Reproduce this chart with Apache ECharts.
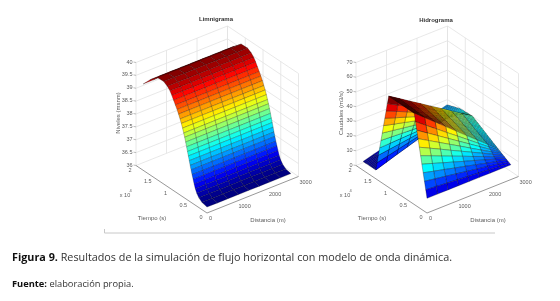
<!DOCTYPE html>
<html><head><meta charset="utf-8">
<style>html,body{margin:0;padding:0;background:#fff}#c{width:560px;height:301px;filter:blur(0.45px)}</style>
<script src="https://cdn.jsdelivr.net/npm/echarts@6/dist/echarts.min.js"></script>
</head><body><div id="c"></div>
<script>
// ---- data ----
const distancias = [0,344,688,1031,1375,1719,2062,2406,2750];
const tiemposNivel = [0,1440,2300,2880,3300,3630,3920,4220,4500,4750,5000,5250,5500,5750,6020,6300,6570,6890,7230,7600,8010,8440,8910,9410,9900,10440,11180,12200,14000,16000,18000];
const niveles = [36.23,36.28,36.38,36.50,36.64,36.79,36.95,37.10,37.26,37.41,37.57,37.73,37.88,38.04,38.20,38.36,38.50,38.66,38.81,38.95,39.10,39.24,39.37,39.51,39.65,39.78,39.89,39.98,39.97,39.70,39.35];
const tiemposCaudal = [0,360,720,1080,1440,1800,2160,2520,2880,3240,3600,3960,4320,4680,5040,5400,5760,6120,6480,6840,7200,7560,7920,8280,8640,9000,9360,9720,10080,10440,10800,11160,11520,11880,12240,12600,12960,13320,13680,14040,14400,14760,15120,15480,15840,16200,16560,16920,17280,17640,18000];
const caudales = [
[10,10,10,10,10,10,10,10,10],
[15.2,14.6,14.0,13.4,12.9,12.3,11.7,11.1,10.5],
[20.4,19.2,18.1,16.9,15.7,14.5,13.4,12.2,11],
[25.6,23.8,22.1,20.3,18.6,16.8,15.0,13.3,11.5],
[30.8,28.5,26.1,23.8,21.4,19.1,16.7,14.4,12],
[36,33.1,30.1,27.2,24.3,21.3,18.4,15.4,12.5],
[41.2,37.7,34.2,30.6,27.1,23.6,20.1,16.5,13],
[46.4,42.3,38.2,34.1,30,25.8,21.7,17.6,13.5],
[51.6,46.9,42.2,37.5,32.8,28.1,23.4,18.7,14],
[56.8,51.5,46.2,40.9,35.7,30.4,25.1,19.8,14.5],
[62,56.1,50.3,44.4,38.5,32.6,26.8,20.9,15],
[62,56.2,50.4,44.6,38.8,32.9,27.1,21.3,15.5],
[62,56.3,50.5,44.8,39.1,33.3,27.6,21.8,16.1],
[62,56.3,50.7,45,39.3,33.6,28,22.3,16.6],
[62,56.4,50.8,45.2,39.6,33.9,28.3,22.7,17.1],
[62,56.5,50.9,45.4,39.9,34.3,28.8,23.2,17.7],
[62,56.5,51.1,45.6,40.1,34.6,29.2,23.7,18.2],
[62,56.6,51.2,45.8,40.4,34.9,29.5,24.1,18.7],
[62,56.7,51.3,46,40.6,35.3,29.9,24.6,19.2],
[62,56.7,51.5,46.2,40.9,35.6,30.4,25.1,19.8],
[62,56.8,51.6,46.4,41.2,35.9,30.7,25.5,20.3],
[62,56.9,51.7,46.6,41.4,36.3,31.1,26,20.8],
[62,56.9,51.9,46.8,41.7,36.6,31.6,26.5,21.4],
[62,57,52,47,42,36.9,31.9,26.9,21.9],
[62,57.1,52.1,47.2,42.2,37.3,32.3,27.4,22.4],
[62,57.1,52.3,47.4,42.5,37.6,32.8,27.9,23],
[62,57.2,52.4,47.6,42.8,37.9,33.1,28.3,23.5],
[62,57.3,52.5,47.8,43,38.3,33.5,28.8,24],
[62,57.3,52.6,47.9,43.3,38.6,33.9,29.2,24.5],
[62,57.4,52.8,48.2,43.6,38.9,34.3,29.7,25.1],
[62,57.5,52.9,48.4,43.8,39.3,34.7,30.2,25.6],
[56.4,52.5,48.7,44.8,41,37.1,33.2,29.4,25.5],
[50.8,47.6,44.5,41.3,38.2,35,31.8,28.7,25.5],
[45.2,42.7,40.3,37.8,35.3,32.8,30.4,27.9,25.4],
[39.6,37.8,36.1,34.3,32.5,30.7,28.9,27.2,25.4],
[34,32.9,31.8,30.7,29.7,28.6,27.5,26.4,25.3],
[28.4,28,27.6,27.2,26.8,26.4,26,25.6,25.2],
[22.8,23.1,23.4,23.7,24,24.3,24.6,24.9,25.2],
[17.2,18.2,19.2,20.2,21.2,22.1,23.1,24.1,25.1],
[11.6,13.3,15,16.7,18.4,20,21.7,23.4,25.1],
[6,8.4,10.8,13.1,15.5,17.9,20.3,22.6,25],
[6,8.3,10.7,13,15.4,17.7,20,22.4,24.7],
[6,8.3,10.6,12.9,15.2,17.4,19.7,22,24.3],
[6,8.3,10.5,12.8,15,17.3,19.5,21.8,24],
[6,8.2,10.4,12.6,14.9,17.1,19.3,21.5,23.7],
[6,8.2,10.4,12.5,14.7,16.9,19.1,21.2,23.4],
[6,8.1,10.3,12.4,14.5,16.6,18.8,20.9,23],
[6,8.1,10.2,12.3,14.4,16.4,18.5,20.6,22.7],
[6,8.1,10.1,12.2,14.2,16.3,18.3,20.4,22.4],
[6,8,10,12,14,16,18,20,22],
[6,8,9.9,11.9,13.9,15.8,17.8,19.7,21.7]];
const ticksDistancia = [0,1000,2000,3000];
const ticksTiempo = [0,5000,10000,15000,20000];
const etiquetasTiempo = ['0','0.5','1','1.5','2'];
const ticksNivel = [36,36.5,37,37.5,38,38.5,39,39.5,40];
const etiquetasNivel = ['36','36.5','37','37.5','38','38.5','39','39.5','40'];
const ticksCaudal = [0,10,20,30,40,50,60,70];
const coloresJet = ['#000080','#0000ff','#0080ff','#00ffff','#80ff80','#ffff00','#ff8000','#ff0000','#800000'];

// ---- view of the box (MATLAB-like orthographic) ----
const VX=[91.5,36.5], VT=[-71,47.5], VZ=103;
const panels=[
 {ox:207,zMin:36,zMax:40,zTicks:ticksNivel,zLabels:etiquetasNivel,times:tiemposNivel,cell:(i,j)=>niveles[i],min:36.23,max:40,stroke:'rgba(0,0,0,0.42)'},
 {ox:427,zMin:0,zMax:70,zTicks:ticksCaudal,zLabels:ticksCaudal.map(String),times:tiemposCaudal,cell:(i,j)=>caudales[i][j],min:4,max:62,stroke:'rgba(0,0,0,0.5)'}
];
const XMAX=3000,TMAX=20000;
function proj(p,x,t,z){
  const a=x/XMAX,b=t/TMAX,c=(z-p.zMin)/(p.zMax-p.zMin);
  return [a*VX[0]+b*VT[0], a*VX[1]+b*VT[1]+c*VZ];
}
function buildDecor(p){
  const back=[],front=[];
  const L=(list,a,b,color,w)=>list.push({a,b,color,w});
  const G='#e2e2e2', A='#8c8c8c';
  // back walls only
  p.zTicks.forEach(z=>{L(back,[0,TMAX,z],[XMAX,TMAX,z],G,.8);L(back,[XMAX,TMAX,z],[XMAX,0,z],G,.8);});
  ticksDistancia.forEach(x=>L(back,[x,TMAX,p.zMin],[x,TMAX,p.zMax],G,.8));
  ticksTiempo.forEach(t=>L(back,[XMAX,t,p.zMin],[XMAX,t,p.zMax],G,.8));
  // front axes
  L(front,[0,0,p.zMin],[XMAX,0,p.zMin],A,.9);
  L(front,[0,0,p.zMin],[0,TMAX,p.zMin],A,.9);
  // labels
  const T=(at,dx,dy,text,align)=>front.push({at,dx,dy,text,align});
  ticksDistancia.forEach(x=>T([x,0,p.zMin],x?1:2,5.5,String(x),'left'));
  ticksTiempo.forEach((t,k)=>T([0,t,p.zMin],-6,4.5,etiquetasTiempo[k],'center'));
  p.zTicks.forEach((z,k)=>{T([0,TMAX,z],-3.5,-.5,p.zLabels[k],'right');front.push({at:[0,TMAX,z],tick:1});});
  return {back,front};
}
function decorRender(p,list){
  return function(params,api){
    const d=list[api.value(0)];
    if(d.text!==undefined){
      const c=api.coord(proj(p,...d.at));
      return {type:'text',x:c[0]+d.dx,y:c[1]+d.dy,style:{text:d.text,fontSize:5.5,fontFamily:'Liberation Sans',fill:'#5c5c5c',align:d.align,verticalAlign:'middle'}};
    }
    if(d.tick){
      const c=api.coord(proj(p,...d.at));
      return {type:'line',shape:{x1:c[0]-2.5,y1:c[1]-.5,x2:c[0],y2:c[1]},style:{stroke:'#a0a0a0',lineWidth:.7}};
    }
    const a=api.coord(proj(p,...d.a)),b=api.coord(proj(p,...d.b));
    return {type:'line',shape:{x1:a[0],y1:a[1],x2:b[0],y2:b[1]},style:{stroke:d.color,lineWidth:d.w}};
  };
}
function surfaceRender(p){
  return function(params,api){
    const j=api.value(0),i=api.value(1);
    const P=(ii,jj)=>api.coord(proj(p,distancias[jj],p.times[ii],p.cell(ii,jj)));
    return {type:'polygon',shape:{points:[P(i,j),P(i,j+1),P(i+1,j+1),P(i+1,j)]},
      style:{fill:api.visual('color'),stroke:p.stroke,lineWidth:.55}};
  };
}
function surfaceData(p){ // painted far to near
  const out=[];
  for(let i=p.times.length-2;i>=0;i--)for(let j=distancias.length-2;j>=0;j--)out.push([j,i,p.cell(i,j)]);
  return out;
}
const grids=[],xAxes=[],yAxes=[],series=[],vms=[];
panels.forEach((p,k)=>{
  grids.push({left:p.ox+VT[0],top:213-(VX[1]+VT[1]+VZ),width:VX[0]-VT[0],height:VX[1]+VT[1]+VZ});
  xAxes.push({gridIndex:k,type:'value',min:VT[0],max:VX[0],show:false});
  yAxes.push({gridIndex:k,type:'value',min:0,max:VX[1]+VT[1]+VZ,show:false});
  const dec=buildDecor(p);
  const base={type:'custom',coordinateSystem:'cartesian2d',xAxisIndex:k,yAxisIndex:k,clip:false,silent:true,animation:false,progressive:0};
  series.push(Object.assign({},base,{name:'rejilla'+k,renderItem:decorRender(p,dec.back),data:dec.back.map((d,n)=>[n,0])}));
  const si=series.length;
  series.push(Object.assign({},base,{name:'superficie'+k,renderItem:surfaceRender(p),data:surfaceData(p)}));
  vms.push({type:'continuous',show:false,seriesIndex:si,dimension:2,min:p.min,max:p.max,inRange:{color:coloresJet}});
  series.push(Object.assign({},base,{name:'ejes'+k,renderItem:decorRender(p,dec.front),data:dec.front.map((d,n)=>[n,0])}));
});
const small=(x,y,text,extra)=>({type:'text',x,y,silent:true,style:Object.assign({text,fontSize:6,fontFamily:'Liberation Sans',fill:'#5c5c5c',align:'center',verticalAlign:'middle'},extra||{})});
const graphic=[
 small(216,19,'Limnigrama',{fontWeight:'bold',fill:'#333',fontSize:6}),
 small(436,20,'Hidrograma',{fontWeight:'bold',fill:'#333',fontSize:6}),
 Object.assign(small(118,113,'Niveles (msnm)'),{rotation:Math.PI/2}),
 Object.assign(small(341,113,'Caudales (m3/s)'),{rotation:Math.PI/2}),
 small(152,218,'Tiempo (s)'),small(372,218,'Tiempo (s)'),
 small(268,220.5,'Distancia (m)'),small(488,220.5,'Distancia (m)'),
 small(125,195.5,'x 10',{fontSize:5.5}),small(130.5,191,'4',{fontSize:4}),
 small(345,195.5,'x 10',{fontSize:5.5}),small(350.5,191,'4',{fontSize:4}),
 {type:'polyline',silent:true,shape:{points:[[104.5,229],[104.5,233],[495,233]]},style:{stroke:'#c8c8c8',lineWidth:1,fill:'none'}},
 {type:'text',x:12,y:258,silent:true,style:{text:'{b|Figura 9.} Resultados de la simulación de flujo horizontal con modelo de onda dinámica.',fontSize:10.8,fontFamily:'Open Sans',fill:'#333',verticalAlign:'middle',rich:{b:{fontWeight:'bold',fontSize:10.8,fontFamily:'Open Sans',fill:'#111'}}}},
 {type:'text',x:12,y:284,silent:true,style:{text:'{b|Fuente:} elaboración propia.',fontSize:9.3,fontFamily:'Open Sans',fill:'#333',verticalAlign:'middle',rich:{b:{fontWeight:'bold',fontSize:9.3,fontFamily:'Open Sans',fill:'#111'}}}}
];
const chart=echarts.init(document.getElementById('c'),null,{renderer:'canvas',width:560,height:301});
chart.setOption({backgroundColor:'#fff',animation:false,grid:grids,xAxis:xAxes,yAxis:yAxes,visualMap:vms,series,graphic});
</script></body></html>
